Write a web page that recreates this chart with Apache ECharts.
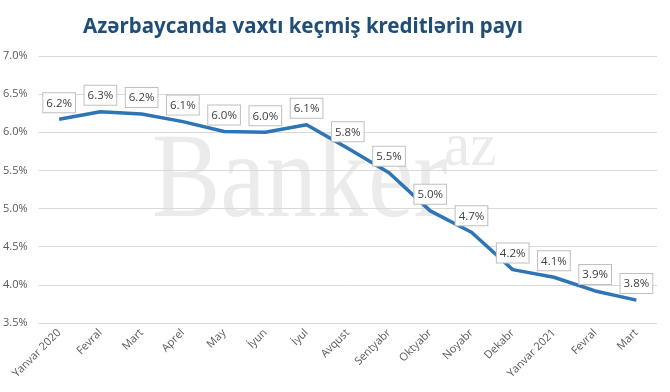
<!DOCTYPE html>
<html><head><meta charset="utf-8">
<script src="https://cdn.jsdelivr.net/npm/echarts@6/dist/echarts.min.js"></script>
<style>html,body{margin:0;padding:0;background:#fff}#c{width:670px;height:392px}</style>
</head><body><div id="c"></div>
<script>
var titleText = 'Azərbaycanda vaxtı keçmiş kreditlərin payı';
var categories = ['Yanvar 2020','Fevral','Mart','Aprel','May','İyun','İyul','Avqust','Sentyabr','Oktyabr','Noyabr','Dekabr','Yanvar 2021','Fevral','Mart'];
var values = [6.17, 6.27, 6.24, 6.14, 6.01, 6.00, 6.10, 5.79, 5.47, 4.97, 4.69, 4.20, 4.10, 3.92, 3.80];
var labelValues = ['6.2%','6.3%','6.2%','6.1%','6.0%','6.0%','6.1%','5.8%','5.5%','5.0%','4.7%','4.2%','4.1%','3.9%','3.8%'];
var yMin = 3.5, yMax = 7.0, yStep = 0.5;

var chart = echarts.init(document.getElementById('c'), null, {renderer:'canvas'});
chart.setOption({
  backgroundColor: '#fff',
  animation: false,
  title: {
    text: titleText, left: 298, top: 12, textAlign: 'center',
    textStyle: {fontFamily: 'Noto Sans', fontWeight: 'bold', fontSize: 20.5, color: '#1F4E79'}
  },
  graphic: [
    {type:'text', z: -10, x: 152, y: 245, scaleX: 0.8, scaleY: 0.95, originX: 0, originY: 0, silent: true,
     style:{text:'Banker', fontFamily:'Liberation Serif', fontSize:128, fill:'#ebebeb', textVerticalAlign:'bottom'}},
    {type:'text', z: -10, x: 444, y: 180, scaleX: 0.95, silent: true,
     style:{text:'az', fontFamily:'Liberation Serif', fontSize:62, fill:'#ebebeb', textVerticalAlign:'bottom'}}
  ],
  grid: {left: 38, right: 13, top: 56, bottom: 69, containLabel: false},
  xAxis: {
    type: 'category', data: categories, boundaryGap: true,
    axisLine: {show: false}, axisTick: {show: false},
    axisLabel: {rotate: 45, interval: 0, fontFamily: 'Open Sans', fontSize: 11, color: '#595959', margin: 8}
  },
  yAxis: {
    type: 'value', min: yMin, max: yMax, interval: yStep,
    axisLine: {show: false}, axisTick: {show: false},
    axisLabel: {formatter: function(v){return v.toFixed(1)+'%';}, fontFamily: 'Open Sans', fontSize: 11, color: '#595959', margin: 11},
    splitLine: {lineStyle: {color: '#d9d9d9', width: 1}}
  },
  series: [{
    type: 'line', data: values, symbol: 'circle', symbolSize: 2, showSymbol: true, z: 5,
    itemStyle: {color: 'rgba(46,117,182,0)', borderWidth: 0},
    lineStyle: {color: '#2E75B6', width: 3.5},
    labelLayout: {hideOverlap: false},
    label: {
      show: true, position: 'top', distance: 6,
      formatter: function(p){return labelValues[p.dataIndex];},
      fontFamily: 'Open Sans', fontSize: 11.5, color: '#404040',
      backgroundColor: '#fff', borderColor: '#bfbfbf', borderWidth: 1, padding: [4, 3, 3, 3]
    }
  }]
});
</script></body></html>
